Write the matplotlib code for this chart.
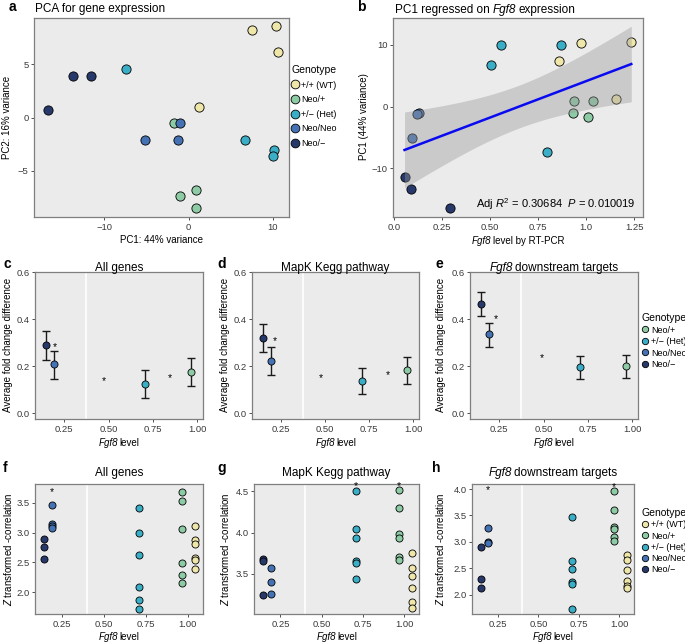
import numpy as np
import matplotlib
matplotlib.use('Agg')
import matplotlib.pyplot as plt
from matplotlib.lines import Line2D

plt.rcParams['font.family'] = ['Liberation Sans', 'DejaVu Sans']
plt.rcParams['mathtext.fontset'] = 'custom'
plt.rcParams['mathtext.rm'] = 'Liberation Sans'
plt.rcParams['mathtext.it'] = 'Liberation Sans:italic'

W, H = 685, 643

genotypes = ['+/+ (WT)', 'Neo/+', '+/\u2212 (Het)', 'Neo/Neo', 'Neo/\u2212']
colors = ['#EFE6A9', '#8DCBA5', '#3AAEC7', '#4472B5', '#27386B']

# a: PCA
a_pc1 = [[7.5, 10.35, 10.6, 1.26], [-1.77, -1.0, 0.87, 0.9], [-7.44, 6.7, 10.1, 10.0],
         [-0.98, -5.2, -1.26], [-13.7, -11.6, -16.7]]
a_pc2 = [[8.2, 8.56, 6.1, 1.0], [-0.53, -7.3, -6.8, -8.5], [4.56, -2.1, -3.06, -3.6],
         [-0.53, -2.1, -2.1], [3.84, 3.84, 0.72]]

# b: PC1 vs Fgf8 level
b_fgf8 = [[0.972, 0.86, 1.234, 1.152], [0.938, 1.036, 0.933, 1.007], [0.559, 0.502, 0.871, 0.795],
          [0.131, 0.121, 0.093], [0.055, 0.09, 0.29]]
b_pc1 = [[10.27, 7.37, 10.48, 1.24], [0.86, 0.86, -0.97, -1.67], [10.0, 6.67, 10.0, -7.26],
         [-0.97, -1.18, -5.05], [-11.3, -13.4, -16.4]]

# c-e: average fold change difference (Neo/+, Het, Neo/Neo, Neo/-)
fc_level = [0.966, 0.707, 0.19, 0.146]
c_mean = [0.176, 0.124, 0.207, 0.289]
c_lo = [0.117, 0.065, 0.144, 0.227]
c_hi = [0.236, 0.182, 0.265, 0.349]
d_mean = [0.183, 0.137, 0.223, 0.32]
d_lo = [0.125, 0.08, 0.162, 0.26]
d_hi = [0.239, 0.193, 0.281, 0.378]
e_mean = [0.199, 0.195, 0.335, 0.463]
e_lo = [0.148, 0.145, 0.28, 0.412]
e_hi = [0.246, 0.244, 0.384, 0.515]
c_stars = [(0.197, 0.297), (0.475, 0.152), (0.849, 0.163)]
d_stars = [(0.212, 0.32), (0.476, 0.163), (0.858, 0.176)]
e_stars = [(0.231, 0.416), (0.49, 0.25)]

# f-h: Z transformed correlation (WT, Neo/+, Het, Neo/Neo, Neo/-)
z_level = [1.045, 0.966, 0.707, 0.19, 0.146]
f_z = [[3.12, 2.87, 2.81, 2.58, 2.54, 2.39], [3.69, 3.54, 3.07, 2.49, 2.29, 2.15],
       [3.42, 3.0, 2.62, 2.09, 1.86, 1.72], [3.47, 3.15, 3.12, 3.08], [2.89, 2.756, 2.55]]
g_z = [[3.75, 3.565, 3.47, 3.33, 3.155, 3.085], [4.52, 4.30, 3.98, 3.93, 3.70, 3.667],
       [4.51, 4.04, 3.93, 3.65, 3.626, 3.435], [3.565, 3.394, 3.248], [3.68, 3.66, 3.236]]
h_z = [[2.757, 2.656, 2.473, 2.26, 2.17, 2.13], [3.968, 3.596, 3.28, 3.24, 3.10, 3.02],
       [3.476, 2.637, 2.48, 2.25, 2.196, 1.735], [3.268, 2.99, 2.97], [2.896, 2.297, 2.126]]
f_stars = [(0.19, 3.74)]
g_stars = [(0.707, 4.61), (0.966, 4.61)]
h_stars = [(0.19, 4.04), (0.966, 4.11)]

fig = plt.figure(figsize=(W / 100, H / 100), dpi=100)
renderer = fig.canvas.get_renderer()


def px_axes(l, r, t, b):
    return fig.add_axes([l / W, 1 - b / H, (r - l) / W, (b - t) / H])


def ftext(x, y, s, **kw):
    kw.setdefault('ha', 'center')
    kw.setdefault('va', 'center')
    return fig.text(x / W, 1 - y / H, s, **kw)


def mixed(x, y, parts, fontsize, ha='center'):
    # text with an italic gene name; y is the vertical centre in px
    fpx = fontsize * 100 / 72
    base = y + 0.36 * fpx
    texts = [fig.text(0, 1 - base / H, s, fontsize=fontsize, fontstyle=st, ha='left', va='baseline')
             for s, st, _ in parts]
    widths = [t.get_window_extent(renderer).width + gap * fpx
              for t, (_, _, gap) in zip(texts, parts)]
    x0 = x - sum(widths) / 2 if ha == 'center' else x
    for t, w in zip(texts, widths):
        t.set_x(x0 / W)
        x0 += w


def style(ax):
    ax.set_facecolor('#EBEBEB')
    for sp in ax.spines.values():
        sp.set_color('#7F7F7F')
        sp.set_linewidth(0.9)
    ax.tick_params(length=2.5, width=0.6, color='#333333', labelsize=6.8,
                   labelcolor='#3A3A3A', pad=1.5)


def put_stars(ax, stars):
    for sx, sy in stars:
        ax.annotate('*', (sx, sy), xytext=(0, -2.5), textcoords='offset points',
                    ha='center', va='center', fontsize=7.5, annotation_clip=False)


def genotype_legend(x, y, idx, ms, spacing):
    hs = [Line2D([], [], ls='none', marker='o', ms=ms, mfc=colors[i], mec='black', mew=0.6)
          for i in idx]
    fig.legend(hs, [genotypes[i] for i in idx], loc='upper left',
               bbox_to_anchor=(x / W, 1 - y / H), frameon=False, title='Genotype',
               alignment='left', fontsize=6.5, title_fontsize=7.5, handlelength=0.8,
               handletextpad=0.3, labelspacing=spacing, borderpad=0, borderaxespad=0)


FGF = ('Fgf8', 'italic', 0.2)
LEVEL = [('Fgf8', 'italic', 0.12), ('level', 'normal', 0)]

# ---- a
ax = px_axes(34, 289, 18, 217)
style(ax)
for i in range(5):
    ax.scatter(a_pc1[i], a_pc2[i], s=44, c=colors[i], edgecolors='black', linewidths=0.6, zorder=3)
ax.set_xlim(-18.3, 11.9)
ax.set_ylim(-9.3, 9.3)
ax.set_xticks([-10, 0, 10])
ax.set_yticks([-5, 0, 5])
ftext(35, 9, 'PCA for gene expression', ha='left', fontsize=8.5)
ftext(12, 7, 'a', fontsize=10, fontweight='bold')
ftext(161, 240, 'PC1: 44% variance', fontsize=7)
ftext(7, 117, 'PC2: 16% variance', fontsize=7, rotation=90)
genotype_legend(291, 65, range(5), 6.3, 0.62)

# ---- b
ax = px_axes(393, 643, 18, 217)
style(ax)
bx = np.concatenate(b_fgf8)
by = np.concatenate(b_pc1)
for i in range(5):
    ax.scatter(b_fgf8[i], b_pc1[i], s=44, c=colors[i], edgecolors='black', linewidths=0.6, zorder=2)
slope, icpt = np.polyfit(bx, by, 1)
n = len(bx)
res = by - (slope * bx + icpt)
s_err = np.sqrt(np.sum(res ** 2) / (n - 2))
xs = np.linspace(bx.min(), bx.max(), 100)
se = s_err * np.sqrt(1 / n + (xs - bx.mean()) ** 2 / np.sum((bx - bx.mean()) ** 2))
ys = slope * xs + icpt
ax.fill_between(xs, ys - 2.12 * se, ys + 2.12 * se, color='#999999', alpha=0.4, lw=0, zorder=3)
ax.plot(xs, ys, color='#0A0AF0', lw=1.8, zorder=4)
ax.set_xlim(-0.005, 1.295)
ax.set_ylim(-17.85, 14.35)
ax.set_xticks([0, 0.25, 0.5, 0.75, 1.0, 1.25])
ax.set_xticklabels(['0.0', '0.25', '0.50', '0.75', '1.0', '1.25'])
ax.set_yticks([-10, 0, 10])
ax.text(0.97, 0.065, r'Adj $R^2$ = 0.30684  $P$ = 0.010019', transform=ax.transAxes,
        ha='right', va='center', fontsize=8)
mixed(395, 9, [('PC1 regressed on', 'normal', 0.25), FGF, ('expression', 'normal', 0)], 8.5, ha='left')
ftext(361, 7, 'b', fontsize=10, fontweight='bold')
mixed(518, 240, [('Fgf8', 'italic', 0.12), ('level by RT-PCR', 'normal', 0)], 7)
ftext(364, 117, 'PC1 (44% variance)', fontsize=7, rotation=90)


# ---- c, d, e
def fold_panel(l, r, mean, lo, hi, stars, title, letter, lx, ylx):
    ax = px_axes(l, r, 272, 419)
    style(ax)
    ax.axvline(0.375, color='white', lw=1.2, zorder=1)
    for k in range(4):
        ax.errorbar(fc_level[k], mean[k], yerr=[[mean[k] - lo[k]], [hi[k] - mean[k]]],
                    fmt='none', ecolor='#1A1A1A', elinewidth=1.0, capsize=3, capthick=1.0, zorder=2)
        ax.scatter(fc_level[k], mean[k], s=26, c=colors[k + 1], edgecolors='black',
                   linewidths=0.6, zorder=3)
    put_stars(ax, stars)
    ax.set_xlim(0.084, 1.034)
    ax.set_ylim(-0.025, 0.6)
    ax.set_xticks([0.25, 0.5, 0.75, 1.0])
    ax.set_xticklabels(['0.25', '0.50', '0.75', '1.00'])
    ax.set_yticks([0, 0.2, 0.4, 0.6])
    ax.set_yticklabels(['0.0', '0.2', '0.4', '0.6'])
    mixed((l + r) / 2, 267, title, 8.5)
    ftext(lx, 264, letter, fontsize=10, fontweight='bold')
    mixed((l + r) / 2, 442, LEVEL, 7)
    ftext(ylx, 345, 'Average fold change difference', fontsize=7, rotation=90)


fold_panel(35, 203, c_mean, c_lo, c_hi, c_stars, [('All genes', 'normal', 0)], 'c', 7, 8)
fold_panel(252, 419, d_mean, d_lo, d_hi, d_stars, [('MapK Kegg pathway', 'normal', 0)], 'd', 222, 225)
fold_panel(470, 638, e_mean, e_lo, e_hi, e_stars, [FGF, ('downstream targets', 'normal', 0)],
           'e', 439, 441)
genotype_legend(641, 313, [1, 2, 3, 4], 4.6, 0.28)


# ---- f, g, h
def z_panel(l, r, vals, stars, yt, ylim, title, letter, lx, ylx):
    ax = px_axes(l, r, 484, 614)
    style(ax)
    ax.axvline(0.40, color='white', lw=1.2, zorder=1)
    for i in range(5):
        ax.scatter([z_level[i]] * len(vals[i]), vals[i], s=26, c=colors[i], edgecolors='black',
                   linewidths=0.6, zorder=3)
    put_stars(ax, stars)
    ax.set_xlim(0.09, 1.09)
    ax.set_ylim(*ylim)
    ax.set_xticks([0.25, 0.5, 0.75, 1.0])
    ax.set_xticklabels(['0.25', '0.50', '0.75', '1.00'])
    ax.set_yticks(yt)
    mixed((l + r) / 2, 472, title, 8.5)
    ftext(lx, 468, letter, fontsize=10, fontweight='bold')
    mixed((l + r) / 2, 636, LEVEL, 7)
    ftext(ylx, 549, r'$\mathit{Z}$ transformed -correlation', fontsize=7, rotation=90)


z_panel(35, 203, f_z, f_stars, [2.0, 2.5, 3.0, 3.5], (1.63, 3.82), [('All genes', 'normal', 0)],
        'f', 5, 8)
z_panel(254, 419, g_z, g_stars, [3.5, 4.0, 4.5], (3.01, 4.59), [('MapK Kegg pathway', 'normal', 0)],
        'g', 222, 225)
z_panel(472, 634, h_z, h_stars, [2.0, 2.5, 3.0, 3.5, 4.0], (1.635, 4.095),
        [FGF, ('downstream targets', 'normal', 0)], 'h', 436, 440)
genotype_legend(641, 508, range(5), 4.6, 0.25)

fig.savefig('out.png', dpi=100)
